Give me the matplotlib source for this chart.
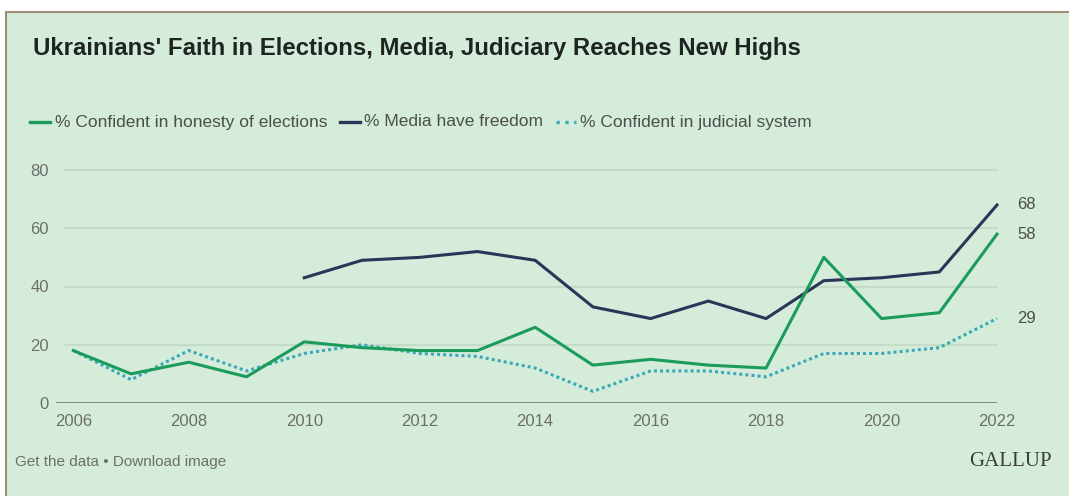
import numpy as np
import matplotlib.pyplot as plt
from matplotlib.patches import Rectangle

years = list(range(2006, 2023))
elections = [18, 10, 14, 9, 21, 19, 18, 18, 26, 13, 15, 13, 12, 50, 29, 31, 58]
media_years = list(range(2010, 2023))
media = [43, 49, 50, 52, 49, 33, 29, 35, 29, 42, 43, 45, 68]
judicial = [18, 8, 18, 11, 17, 20, 17, 16, 12, 4, 11, 11, 9, 17, 17, 19, 29]
y_ticks = [0, 20, 40, 60, 80]
x_ticks = list(range(2006, 2023, 2))

BG = '#d6ecda'
GREEN = '#1b9b5c'
NAVY = '#2c3457'
TEAL = '#3ba9b7'
TXT = '#6a6f6b'

plt.rcParams['font.family'] = ['Liberation Sans', 'DejaVu Sans']

fig = plt.figure(figsize=(10.69, 4.96), dpi=100)
fig.patch.set_facecolor('white')
W, H = 1069, 496

# panel with left/top border
fig.patches.append(Rectangle((6 / W, 0), 1 - 6 / W, 1 - 12 / H, transform=fig.transFigure,
                             facecolor=BG, edgecolor='none', zorder=-5))
fig.lines.append(plt.Line2D([6 / W, 6 / W], [0, 1 - 12 / H], transform=fig.transFigure,
                            color='#a08f78', lw=1.5, zorder=-4))
fig.lines.append(plt.Line2D([6 / W, 1], [1 - 12 / H, 1 - 12 / H], transform=fig.transFigure,
                            color='#a08f78', lw=1.5, zorder=-4))

ax = fig.add_axes([56 / W, (H - 403) / H, (997 - 56) / W, (403 - 170) / H])
ax.set_facecolor('none')
ax.set_xlim(2005.7, 2022)
ax.set_ylim(0, 80)
for s in ax.spines.values():
    s.set_visible(False)

for yv in y_ticks[1:]:
    ax.axhline(yv, xmin=0.01, color='#c3dbc7', lw=1.5, zorder=1, clip_on=False)
ax.axhline(0, color='#6f7e72', lw=2, zorder=1)

ax.plot(years, judicial, color=TEAL, lw=2.2, ls=(0, (1, 1)), clip_on=False, zorder=3)
ax.plot(media_years, media, color=NAVY, lw=2.2, clip_on=False, zorder=4)
ax.plot(years, elections, color=GREEN, lw=2.2, clip_on=False, zorder=5)

for val in (media[-1], elections[-1], judicial[-1]):
    ax.text(2022.35, val, str(val), color='#4a4f4c', fontsize=12, va='center', ha='left')

ax.set_xticks(x_ticks)
ax.set_yticks(y_ticks)
ax.tick_params(length=0, labelsize=12, labelcolor=TXT)
ax.tick_params(axis='x', pad=8)
ax.tick_params(axis='y', pad=5)

fig.text(33 / W, 1 - 48 / H, "Ukrainians' Faith in Elections, Media, Judiciary Reaches New Highs",
         fontsize=17.3, fontweight='bold', color='#1e2421', va='center', ha='left')

# legend row
leg_y = 1 - 122 / H
items = [("% Confident in honesty of elections", GREEN, '-'),
         ("% Media have freedom", NAVY, '-'),
         ("% Confident in judicial system", TEAL, ':')]
x = 30
renderer = fig.canvas.get_renderer()
for label, col, ls in items:
    fig.lines.append(plt.Line2D([x / W, (x + 20) / W], [leg_y, leg_y], transform=fig.transFigure,
                                color=col, lw=2.4, ls=ls))
    t = fig.text((x + 25) / W, leg_y, label, fontsize=12.5, color='#4a4f4c', va='center', ha='left')
    bb = t.get_window_extent(renderer=renderer)
    x = bb.x1 + 12

fig.text(15 / W, 1 - 462 / H, "Get the data \u2022 Download image", fontsize=11, color=TXT,
         va='center', ha='left')
fig.text(1052 / W, 1 - 462 / H, "GALLUP", fontsize=15, color='#3a3f3c', family='Liberation Serif',
         va='center', ha='right')

fig.savefig('out.png', dpi=100, facecolor=fig.get_facecolor())
